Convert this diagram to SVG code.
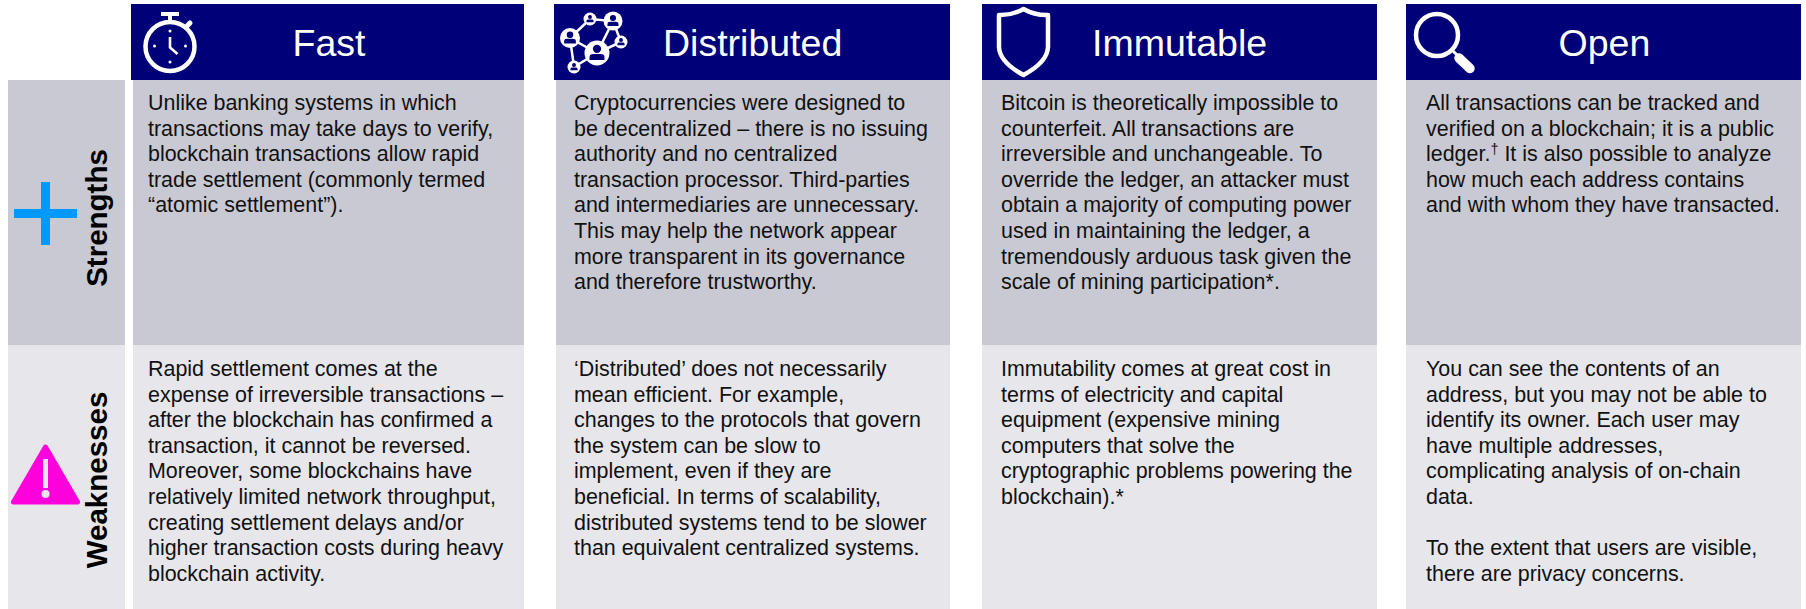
<svg xmlns="http://www.w3.org/2000/svg" width="1806" height="609" viewBox="0 0 1806 609">
<style>
.hd{fill:#000078}
.s{fill:#c9c9d3}
.w{fill:#e6e6eb}
text{font-family:"Liberation Sans",Arial,sans-serif}
.t{font-size:37.5px;fill:#fff}
.b{font-size:21.45px;fill:#111}
.r{font-size:29.5px;font-weight:bold;fill:#000;text-anchor:middle}
.ic{fill:none;stroke:#fff;stroke-width:4.5}
.p{fill:#000078}
</style>
<defs>
<g id="person"><circle cx="0" cy="-3.6" r="3.6" class="p"/><path d="M-6.5 6V3.5Q-6.5 0.8-3 0.8H3Q6.5 0.8 6.5 3.5V6Z" class="p"/></g>
</defs>
<rect width="1806" height="609" fill="#fff"/>
<g id="row-strengths">
<rect x="8" y="80" width="117" height="265" class="s"/>
<path d="M41 182h9v27h27v9h-27v27h-9v-27h-27v-9h27z" fill="#0099ff"/>
<text class="r" transform="translate(106.500 218) rotate(-90)">Strengths</text>
</g>
<g id="row-weaknesses">
<rect x="8" y="345" width="117" height="264" class="w"/>
<path d="M45.5 447L77.5 502H13.5Z" fill="#ff00dd" stroke="#ff00dd" stroke-width="5" stroke-linejoin="round"/>
<rect x="43" y="459" width="5" height="29" fill="#e6e6eb"/>
<circle cx="45.5" cy="494" r="4" fill="#e6e6eb"/>
<text class="r" transform="translate(106.500 480) rotate(-90)">Weaknesses</text>
</g>
<g id="col-fast">
<rect x="131" y="4" width="393" height="76" class="hd"/>
<rect x="133" y="80" width="391" height="265" class="s"/>
<rect x="133" y="345" width="391" height="264" class="w"/>
<g id="icon-stopwatch">
<circle cx="170" cy="46.5" r="24.5" class="ic"/>
<rect x="161" y="12" width="18" height="4" fill="#fff"/>
<rect x="168" y="15" width="4" height="7" fill="#fff"/>
<path d="M187 26L190 23" stroke="#fff" stroke-width="5" stroke-linecap="round" fill="none"/>
<path d="M170 37V47.5L177.500 54" stroke="#fff" stroke-width="2.600" fill="none"/>
<circle cx="170" cy="31" r="1.500" fill="#fff"/><circle cx="154.500" cy="46" r="1.500" fill="#fff"/><circle cx="185.500" cy="46" r="1.500" fill="#fff"/><circle cx="170" cy="62" r="1.500" fill="#fff"/>
</g>
<text class="t" x="292.500" y="56">Fast</text>
<text class="b" x="148"><tspan x="148" y="110">Unlike banking systems in which</tspan><tspan x="148" y="135.600">transactions may take days to verify,</tspan><tspan x="148" y="161.200">blockchain transactions allow rapid</tspan><tspan x="148" y="186.800">trade settlement (commonly termed</tspan><tspan x="148" y="212.400">“atomic settlement”).</tspan></text>
<text class="b"><tspan x="148" y="376">Rapid settlement comes at the</tspan><tspan x="148" y="401.600">expense of irreversible transactions –</tspan><tspan x="148" y="427.200">after the blockchain has confirmed a</tspan><tspan x="148" y="452.800">transaction, it cannot be reversed.</tspan><tspan x="148" y="478.400">Moreover, some blockchains have</tspan><tspan x="148" y="504">relatively limited network throughput,</tspan><tspan x="148" y="529.600">creating settlement delays and/or</tspan><tspan x="148" y="555.200">higher transaction costs during heavy</tspan><tspan x="148" y="580.800">blockchain activity.</tspan></text>
</g>
<g id="col-distributed">
<rect x="554" y="4" width="396" height="76" class="hd"/>
<rect x="556" y="80" width="394" height="265" class="s"/>
<rect x="556" y="345" width="394" height="264" class="w"/>
<g id="icon-network">
<path d="M570 38L590 19L613 21L597 53L570 38L574 67L597 53M613 21L621 42L597 53" fill="none" stroke="#fff" stroke-width="2.500"/>
<circle cx="570" cy="38" r="10" fill="#fff"/><circle cx="590" cy="19" r="6.500" fill="#fff"/><circle cx="613" cy="21" r="9.500" fill="#fff"/><circle cx="621" cy="42" r="6.500" fill="#fff"/><circle cx="597" cy="53" r="12.500" fill="#fff"/><circle cx="574" cy="67" r="6.500" fill="#fff"/>
<use href="#person" transform="translate(570 38) scale(.9)"/><use href="#person" transform="translate(590 19) scale(.55)"/><use href="#person" transform="translate(613 21) scale(.85)"/><use href="#person" transform="translate(621 42) scale(.55)"/><use href="#person" transform="translate(597 53) scale(1.150)"/><use href="#person" transform="translate(574 67) scale(.55)"/>
</g>
<text class="t" x="663" y="56">Distributed</text>
<text class="b"><tspan x="574" y="110">Cryptocurrencies were designed to</tspan><tspan x="574" y="135.600">be decentralized – there is no issuing</tspan><tspan x="574" y="161.200">authority and no centralized</tspan><tspan x="574" y="186.800">transaction processor. Third-parties</tspan><tspan x="574" y="212.400">and intermediaries are unnecessary.</tspan><tspan x="574" y="238">This may help the network appear</tspan><tspan x="574" y="263.600">more transparent in its governance</tspan><tspan x="574" y="289.200">and therefore trustworthy.</tspan></text>
<text class="b"><tspan x="574" y="376">‘Distributed’ does not necessarily</tspan><tspan x="574" y="401.600">mean efficient. For example,</tspan><tspan x="574" y="427.200">changes to the protocols that govern</tspan><tspan x="574" y="452.800">the system can be slow to</tspan><tspan x="574" y="478.400">implement, even if they are</tspan><tspan x="574" y="504">beneficial. In terms of scalability,</tspan><tspan x="574" y="529.600">distributed systems tend to be slower</tspan><tspan x="574" y="555.200">than equivalent centralized systems.</tspan></text>
</g>
<g id="col-immutable">
<rect x="982" y="4" width="395" height="76" class="hd"/>
<rect x="982" y="80" width="395" height="265" class="s"/>
<rect x="982" y="345" width="395" height="264" class="w"/>
<path id="icon-shield" d="M1023.500 9Q1012 15.500 999 15V47Q999.500 62 1023.500 75Q1047.500 62 1048 47V15Q1035 15.500 1023.500 9Z" class="ic" stroke-linejoin="round"/>
<text class="t" x="1092" y="56">Immutable</text>
<text class="b"><tspan x="1001" y="110">Bitcoin is theoretically impossible to</tspan><tspan x="1001" y="135.600">counterfeit. All transactions are</tspan><tspan x="1001" y="161.200">irreversible and unchangeable. To</tspan><tspan x="1001" y="186.800">override the ledger, an attacker must</tspan><tspan x="1001" y="212.400">obtain a majority of computing power</tspan><tspan x="1001" y="238">used in maintaining the ledger, a</tspan><tspan x="1001" y="263.600">tremendously arduous task given the</tspan><tspan x="1001" y="289.200">scale of mining participation*.</tspan></text>
<text class="b"><tspan x="1001" y="376">Immutability comes at great cost in</tspan><tspan x="1001" y="401.600">terms of electricity and capital</tspan><tspan x="1001" y="427.200">equipment (expensive mining</tspan><tspan x="1001" y="452.800">computers that solve the</tspan><tspan x="1001" y="478.400">cryptographic problems powering the</tspan><tspan x="1001" y="504">blockchain).*</tspan></text>
</g>
<g id="col-open">
<rect x="1406" y="4" width="395" height="76" class="hd"/>
<rect x="1406" y="80" width="395" height="265" class="s"/>
<rect x="1406" y="345" width="395" height="264" class="w"/>
<g id="icon-magnifier">
<circle cx="1437" cy="35" r="21" class="ic"/>
<path d="M1453 51L1459 57" stroke="#fff" stroke-width="3" fill="none"/>
<path d="M1459 58L1470 68.500" stroke="#fff" stroke-width="9.500" stroke-linecap="round" fill="none"/>
</g>
<text class="t" x="1558.500" y="56">Open</text>
<text class="b"><tspan x="1426" y="110">All transactions can be tracked and</tspan><tspan x="1426" y="135.600">verified on a blockchain; it is a public</tspan><tspan x="1426" y="161.200">ledger.</tspan><tspan dy="-7" font-size="14.500">†</tspan><tspan dy="7"> It is also possible to analyze</tspan><tspan x="1426" y="186.800">how much each address contains</tspan><tspan x="1426" y="212.400">and with whom they have transacted.</tspan></text>
<text class="b"><tspan x="1426" y="376">You can see the contents of an</tspan><tspan x="1426" y="401.600">address, but you may not be able to</tspan><tspan x="1426" y="427.200">identify its owner. Each user may</tspan><tspan x="1426" y="452.800">have multiple addresses,</tspan><tspan x="1426" y="478.400">complicating analysis of on-chain</tspan><tspan x="1426" y="504">data.</tspan><tspan x="1426" y="555.200">To the extent that users are visible,</tspan><tspan x="1426" y="580.800">there are privacy concerns.</tspan></text>
</g>
</svg>
